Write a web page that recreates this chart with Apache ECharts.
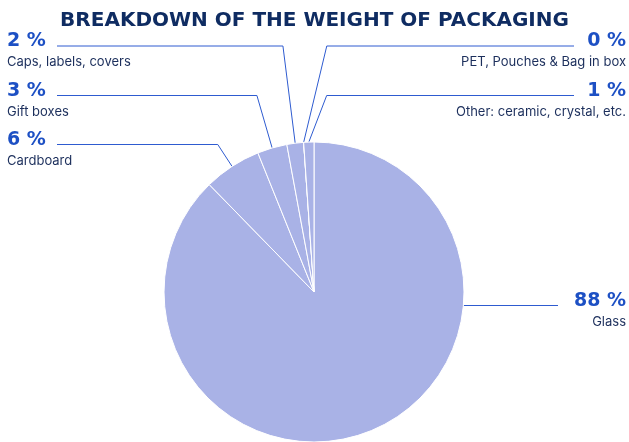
<!DOCTYPE html>
<html>
<head>
<meta charset="utf-8">
<script src="https://cdn.jsdelivr.net/npm/echarts@6/dist/echarts.min.js"></script>
<style>
  html, body { margin: 0; padding: 0; background: #fff; }
  #chart { width: 629px; height: 442px; }
</style>
</head>
<body>
<div id="chart"></div>
<script>
// data
const categories = ['Glass', 'Cardboard', 'Gift boxes', 'Caps, labels, covers', 'PET, Pouches & Bag in box', 'Other: ceramic, crystal, etc.'];
const shares = [87.7, 6.2, 3.2, 1.8, 0, 1.1];

// pie geometry
const CX = 314, CY = 292, R = 150;

// where each label sits (layout only)
const labelSlots = [
  { side: 'right', top: 290, lineEnd: 558 },              // Glass
  { side: 'left', top: 129, lineEnd: 57 },                // Cardboard
  { side: 'left', top: 80, lineEnd: 57 },                 // Gift boxes
  { side: 'left', top: 30.5, lineEnd: 57 },               // Caps
  { side: 'right', top: 30.5, lineEnd: 574, lean: 13.5 }, // PET
  { side: 'right', top: 80, lineEnd: 574, lean: 21 }      // Other
];

const BLUE = '#1d50c4';
const NAVY = '#1c2f5c';

var chart = echarts.init(document.getElementById('chart'));

var pieData = categories.map(function (name, i) {
  return { name: name, value: shares[i] };
});

var pctStyle = { fontFamily: 'DejaVu Sans', fontWeight: 'bold', fontSize: 19, lineHeight: 22, color: BLUE };
var nameStyle = { fontFamily: 'Inter', fontSize: 13, lineHeight: 20, color: NAVY };

var option = {
  animation: false,
  title: {
    text: 'BREAKDOWN OF THE WEIGHT OF PACKAGING',
    left: 'center',
    top: 6,
    textStyle: {
      fontFamily: 'DejaVu Sans',
      fontWeight: 'bold',
      fontSize: 20,
      color: '#0f2c62'
    }
  },
  series: [{
    type: 'pie',
    center: [CX, CY],
    radius: R,
    startAngle: 90,
    clockwise: true,
    avoidLabelOverlap: false,
    silent: true,
    itemStyle: {
      color: '#a9b2e6',
      borderColor: '#fff',
      borderWidth: 1
    },
    label: {
      show: true,
      position: 'outside',
      formatter: function (p) {
        var s = labelSlots[p.dataIndex].side === 'right' ? 'R' : 'L';
        return '{p' + s + '|' + Math.round(p.percent) + ' %}\n{n' + s + '|' + p.name + '}';
      },
      rich: {
        pL: Object.assign({ align: 'left' }, pctStyle),
        nL: Object.assign({ align: 'left' }, nameStyle),
        pR: Object.assign({ align: 'right' }, pctStyle),
        nR: Object.assign({ align: 'right' }, nameStyle)
      }
    },
    labelLine: {
      show: true,
      length: 20,
      length2: 20,
      lineStyle: { color: '#2e5bd0', width: 1 }
    },
    labelLayout: function (params) {
      var slot = labelSlots[params.dataIndex];
      var lineY = slot.top + 15.5;
      var pts = params.labelLinePoints;
      var linePts;
      if (params.dataIndex === 0) {
        // glass: straight out from the right edge of the pie
        var x0 = CX + Math.sqrt(R * R - (lineY - CY) * (lineY - CY));
        linePts = [[x0, lineY], [x0, lineY], [slot.lineEnd, lineY]];
      } else {
        var p0 = pts[0];
        var bend;
        if (slot.lean != null) {
          bend = [p0[0] + (p0[1] - lineY) * Math.tan(slot.lean * Math.PI / 180), lineY];
        } else {
          var dx = pts[1][0] - p0[0], dy = pts[1][1] - p0[1];
          var t = (lineY - p0[1]) / dy;
          bend = [p0[0] + t * dx, lineY];
        }
        linePts = [p0, bend, [slot.lineEnd, lineY]];
      }
      return {
        x: slot.side === 'right' ? 626 : 7,
        y: slot.top,
        align: slot.side,
        verticalAlign: 'top',
        labelLinePoints: linePts
      };
    },
    data: pieData
  }]
};
chart.setOption(option);
</script>
</body>
</html>
